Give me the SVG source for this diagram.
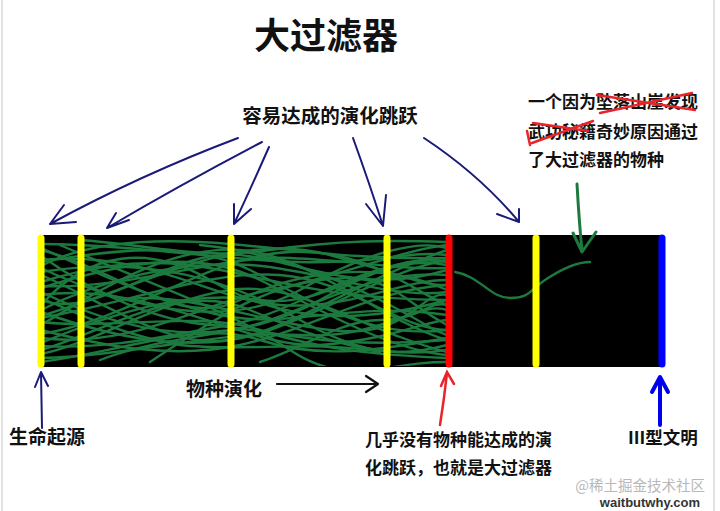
<svg xmlns="http://www.w3.org/2000/svg" width="720" height="511" viewBox="0 0 720 511">
<style>
.t{font-family:"Noto Sans CJK SC","Noto Sans",sans-serif;font-weight:bold;fill:#111}
.navy{fill:none;stroke:#1a1a78;stroke-width:2;stroke-linecap:round;stroke-linejoin:round}
.strand path{fill:none;stroke:#1c7a3e;stroke-width:2.4;stroke-linecap:round}
.stripe{stroke-width:7;stroke-linecap:round}
.red{fill:none;stroke:#e8252a;stroke-width:2.5;stroke-linecap:round}
</style>
<defs><clipPath id="barclip"><rect x="40" y="236" width="622" height="130"/></clipPath></defs>
<rect width="720" height="511" fill="#fff"/>
<line x1="2" y1="0" x2="2" y2="511" stroke="#e2e2e2" stroke-width="2"/>
<line x1="714" y1="0" x2="714" y2="511" stroke="#e2e2e2" stroke-width="2"/>

<g id="title"><text class="t" x="326" y="49" font-size="36" text-anchor="middle">大过滤器</text></g>

<g id="bar">
<rect x="40" y="235" width="622" height="132" fill="#000"/>
<g class="strand" clip-path="url(#barclip)">
<path d="M41 250 C120 270,180 330,240 300 S380 260,447 290"/>
<path d="M41 262 C110 250,190 240,250 270 S370 340,447 330"/>
<path d="M41 275 C100 300,170 350,230 340 S360 280,447 250"/>
<path d="M41 288 C130 260,200 250,260 280 S390 350,447 355"/>
<path d="M41 300 C90 320,160 260,220 255 S350 300,447 270"/>
<path d="M41 312 C120 340,200 355,270 330 S390 270,447 260"/>
<path d="M41 325 C100 290,170 245,240 250 S380 320,447 340"/>
<path d="M41 338 C130 350,210 300,270 290 S400 250,447 245"/>
<path d="M41 350 C110 330,180 280,250 310 S380 360,447 350"/>
<path d="M41 358 C140 355,220 330,300 335 S420 300,447 310"/>
<path d="M41 244 C140 245,220 260,300 262 S410 250,447 255"/>
<path d="M41 256 C90 290,150 320,210 325 S330 350,447 340"/>
<path d="M41 268 C130 310,230 330,300 290 S420 240,447 248"/>
<path d="M41 282 C80 270,130 258,190 265 S320 300,447 300"/>
<path d="M41 295 C150 280,250 350,320 345 S430 320,447 320"/>
<path d="M41 305 C90 250,150 245,210 280 S340 330,447 300"/>
<path d="M41 318 C140 300,210 270,280 275 S400 330,447 330"/>
<path d="M41 330 C100 345,170 360,240 345 S370 290,447 285"/>
<path d="M41 343 C120 310,190 290,260 300 S380 250,447 262"/>
<path d="M41 354 C90 345,160 300,230 290 S360 330,447 352"/>
<path d="M41 248 C80 265,150 300,220 315 S350 300,447 315"/>
<path d="M41 272 C150 255,230 280,300 320 S410 355,447 345"/>
<path d="M41 292 C120 330,200 345,270 320 S380 270,447 275"/>
<path d="M41 310 C100 280,180 260,250 265 S390 300,447 292"/>
<path d="M41 334 C130 320,210 255,290 252 S410 290,447 305"/>
<path d="M41 346 C110 350,170 335,230 325 S360 260,447 258"/>
<path d="M41 260 C150 250,210 300,280 305 S400 280,447 280"/>
<path d="M41 322 C110 330,200 310,260 330 S380 355,447 358"/>
<path d="M41 286 C130 290,220 255,290 258 S400 270,447 268"/>
<path d="M41 362 C130 350,200 320,260 340 S380 350,447 338"/>
<path d="M81 240 C150 245,200 260,270 250 S390 240,447 242"/>
<path d="M100 360 C180 330,250 340,320 300 S420 260,447 265"/>
<path d="M60 245 C140 280,230 310,290 350 S390 360,447 362"/>
<path d="M150 362 C200 330,250 290,320 280 S400 300,447 325"/>
<path d="M41 298 C70 310,120 335,180 345 C240 352,320 340,380 352"/>
<path d="M200 245 C260 250,330 275,380 300 S430 330,447 335"/>
<path d="M41 266 C90 240,160 238,230 244 S360 260,447 258"/>
<path d="M120 300 C180 290,250 320,330 330 S420 290,447 295"/>
<path d="M41 316 C160 280,240 230,330 255 S420 285,447 285"/>
<path d="M260 362 C300 350,340 320,380 320 S430 300,447 305"/>
<path d="M455 272 C480 276,490 298,510 298 S530 290,545 280 S575 262,590 262"/>
</g>
<line class="stripe" x1="41" y1="238" x2="41" y2="364" stroke="#ffff00"/>
<line class="stripe" x1="81" y1="238" x2="81" y2="364" stroke="#ffff00"/>
<line class="stripe" x1="231" y1="238" x2="231" y2="364" stroke="#ffff00"/>
<line class="stripe" x1="387" y1="238" x2="387" y2="364" stroke="#ffff00"/>
<line class="stripe" x1="449" y1="238" x2="449" y2="364" stroke="#ff0000" stroke-width="8"/>
<line class="stripe" x1="536" y1="238" x2="536" y2="364" stroke="#ffff00"/>
<line class="stripe" x1="662" y1="238" x2="662" y2="364" stroke="#0000ff" stroke-width="8"/>
</g>

<g id="easy-label"><text class="t" x="330" y="123" font-size="19.5" text-anchor="middle">容易达成的演化跳跃</text></g>

<g id="survivor-label">
<text class="t" x="528" y="108" font-size="17">一个因为坠落山崖发现</text>
<text class="t" x="528" y="138" font-size="17">武功秘籍奇妙原因通过</text>
<text class="t" x="528" y="166" font-size="17">了大过滤器的物种</text>
<path class="red" d="M597 95 L695 110 M600 113 L692 93 M532 143 L593 121 M533 123 L588 131 M527 131 L530 145"/>
</g>

<g id="origin-label"><text class="t" x="9" y="444" font-size="19">生命起源</text></g>
<g id="evolution-label"><text class="t" x="186" y="396" font-size="19">物种演化</text></g>
<g id="filter-label">
<text class="t" x="365" y="446" font-size="17">几乎没有物种能达成的演</text>
<text class="t" x="365" y="474" font-size="17">化跳跃，也就是大过滤器</text>
</g>
<g id="civ-label"><text class="t" x="628" y="444" font-size="17.5">III型文明</text></g>
<g id="watermark">
<text x="705" y="491" font-size="14.5" text-anchor="end" font-family="'Noto Sans CJK SC','Noto Sans',sans-serif" fill="#b8b8b8">@稀土掘金技术社区</text>
<text x="700" y="507" font-size="13" text-anchor="end" font-family="'Liberation Sans',Arial,sans-serif" font-weight="bold" fill="#333">waitbutwhy.com</text>
</g>

<g id="connectors">
<path class="navy" d="M238 138 Q140 175 50 224 M64 205 L50 224 L76 222"/>
<path class="navy" d="M262 142 Q180 185 107 228 M116 213 L107 228 L129 220"/>
<path class="navy" d="M269 147 Q250 190 234 224 M234 204 L234 224 L251 209"/>
<path class="navy" d="M353 138 Q370 185 383 226 M366 204 L383 226 L386 195"/>
<path class="navy" d="M424 138 Q480 175 519 222 M497 214 L519 222 L519 209"/>
<path fill="none" stroke="#1c7a3e" stroke-width="3" stroke-linecap="round" stroke-linejoin="round" d="M577 184 Q579 220 582 251 M573 233 L582 252 L596 232"/>
<path class="navy" d="M42 428 L41 373 M35 387 L41 372 L48 386"/>
<path fill="none" stroke="#111" stroke-width="2.2" stroke-linecap="round" stroke-linejoin="round" d="M277 384 L378 384 M366 376 L378 384 L366 392"/>
<path class="red" d="M440 425 Q444 400 447 373 M441 386 L447 372 L454 384"/>
<path fill="none" stroke="#0000ee" stroke-width="4" stroke-linecap="round" stroke-linejoin="round" d="M660 425 L660 378 M652 392 L660 377 L668 392"/>
</g>
</svg>
